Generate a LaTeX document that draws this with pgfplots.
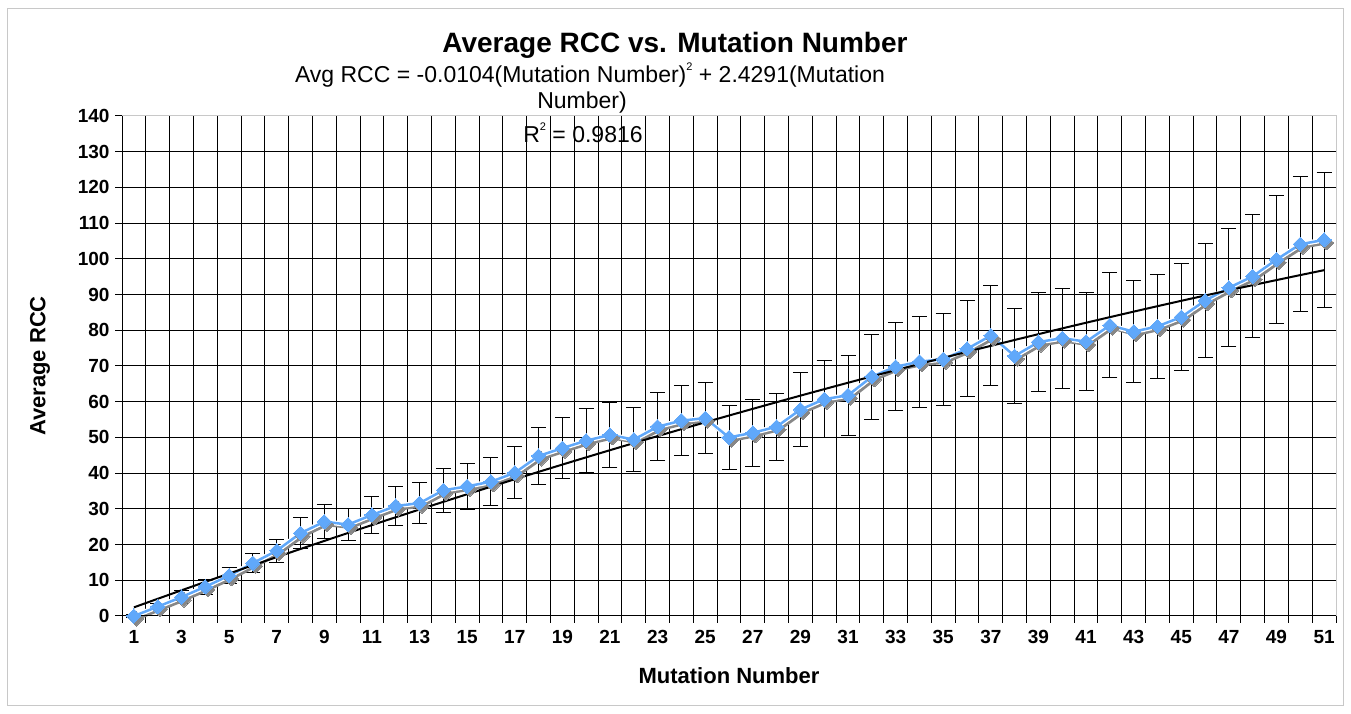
\documentclass[border=0pt]{standalone}
\usepackage{pgfplots}
\usepackage{pgfplotstable}
\pgfplotsset{compat=1.18}
\usepackage{fontspec}
\setmainfont{Liberation Sans}
\definecolor{rccblue}{RGB}{96,168,250}
\definecolor{framegray}{RGB}{200,200,200}
\definecolor{shadowgray}{RGB}{135,135,135}

\pgfplotstableread{
x y err
1 0.0 0.5
2 2.6 1.0
3 5.3 1.8
4 8.2 2.1
5 11.3 2.3
6 14.8 2.7
7 18.3 3.2
8 23.2 4.3
9 26.4 4.8
10 25.6 4.6
11 28.3 5.1
12 30.8 5.5
13 31.6 5.7
14 35.2 6.2
15 36.3 6.5
16 37.6 6.7
17 40.1 7.3
18 44.8 7.9
19 47.0 8.5
20 49.1 8.9
21 50.7 9.2
22 49.4 9.0
23 53.0 9.5
24 54.7 9.8
25 55.4 10.0
26 50.0 9.0
27 51.3 9.4
28 53.0 9.4
29 57.8 10.3
30 60.7 10.7
31 61.8 11.2
32 67.0 11.9
33 69.8 12.4
34 71.2 12.7
35 71.9 12.9
36 74.8 13.4
37 78.5 14.0
38 72.8 13.2
39 76.7 13.8
40 77.8 14.0
41 76.8 13.8
42 81.4 14.7
43 79.6 14.3
44 81.1 14.6
45 83.7 15.0
46 88.3 16.0
47 91.9 16.5
48 95.1 17.2
49 99.8 18.0
50 104.1 18.9
51 105.3 18.9
}\rccdata

\pgfplotstableread{
x y
1 2.4187
2 4.8166
3 7.1937
4 9.5500
5 11.8855
6 14.2002
7 16.4941
8 18.7672
9 21.0195
10 23.2510
11 25.4617
12 27.6516
13 29.8207
14 31.9690
15 34.0965
16 36.2032
17 38.2891
18 40.3542
19 42.3985
20 44.4220
21 46.4247
22 48.4066
23 50.3677
24 52.3080
25 54.2275
26 56.1262
27 58.0041
28 59.8612
29 61.6975
30 63.5130
31 65.3077
32 67.0816
33 68.8347
34 70.5670
35 72.2785
36 73.9692
37 75.6391
38 77.2882
39 78.9165
40 80.5240
41 82.1107
42 83.6766
43 85.2217
44 86.7460
45 88.2495
46 89.7322
47 91.1941
48 92.6352
49 94.0555
50 95.4550
51 96.8337
}\trend

\begin{document}
\begin{tikzpicture}[x=1pt,y=1pt]
\useasboundingbox (0,0) rectangle (1351,714);
\draw[framegray, line width=1pt] (7,8) rectangle (1343,705);
\begin{axis}[
  at={(122pt,98pt)}, anchor=south west,
  scale only axis, width=1214pt, height=500pt,
  xmin=0.5, xmax=51.5, ymin=0, ymax=140,
  xtick={1,3,...,51},
  minor xtick={0.5,1.5,...,51.5},
  ytick={0,10,...,140},
  major x tick style={draw=none},
  minor x tick style={black, line width=1pt},
  y tick style={black, line width=1pt},
  tick align=outside,
  major tick length=7pt, minor tick length=7pt,
  xtick pos=lower, ytick pos=left,
  ymajorgrids, xminorgrids,
  major grid style={black, line width=1pt},
  minor grid style={black, line width=1pt},
  axis line style={draw=framegray, line width=1pt},
  /pgf/number format/assume math mode=true,
  tick label style={font=\fontsize{19}{21}\selectfont\bfseries},
  yticklabel style={xshift=-2pt},
  xticklabel style={yshift=-4pt},
  clip=false,
]
\addplot[draw=none, forget plot, error bars/.cd, y dir=both, y explicit,
  error bar style={black, line width=1pt},
  error mark options={black, line width=1pt, mark size=7.5pt, rotate=90}]
  table[x=x, y=y, y error=err] {\rccdata};
\addplot[shadowgray, line width=3pt, mark=square*, mark size=5pt,
  mark options={rotate=45, fill=shadowgray, draw=shadowgray, line width=0pt},
  xshift=2.5pt, yshift=-3pt] table[x=x, y=y] {\rccdata};
\addplot[white, line width=5pt] table[x=x, y=y] {\rccdata};
\addplot[rccblue, line width=2.5pt, mark=square*, mark size=5pt,
  mark options={rotate=45, fill=rccblue, draw=rccblue, line width=0pt}]
  table[x=x, y=y] {\rccdata};
\addplot[black, line width=2pt, smooth] table[x=x, y=y] {\trend};
\draw[black, line width=1pt] (axis cs:0.5,140) -- (axis cs:0.5,0) -- (axis cs:51.5,0);
\end{axis}
\node[anchor=base, font=\fontsize{28}{30}\selectfont\bfseries] at (675,661) {Average RCC vs. Mutation Number};
\node[anchor=base, font=\fontsize{23}{25}\selectfont] at (590,631) {Avg RCC = -0.0104(Mutation Number)\raisebox{0.55em}{\fontsize{11}{11}\selectfont 2} + 2.4291(Mutation};
\node[anchor=base, font=\fontsize{23}{25}\selectfont] at (582,605) {Number)};
\node[anchor=base, font=\fontsize{23}{25}\selectfont] at (583,571) {R\raisebox{0.55em}{\fontsize{11}{11}\selectfont 2} = 0.9816};
\node[rotate=90, font=\fontsize{22}{24}\selectfont\bfseries] at (40,348) {Average RCC};
\node[font=\fontsize{22}{24}\selectfont\bfseries] at (729,38) {Mutation Number};
\end{tikzpicture}
\end{document}
